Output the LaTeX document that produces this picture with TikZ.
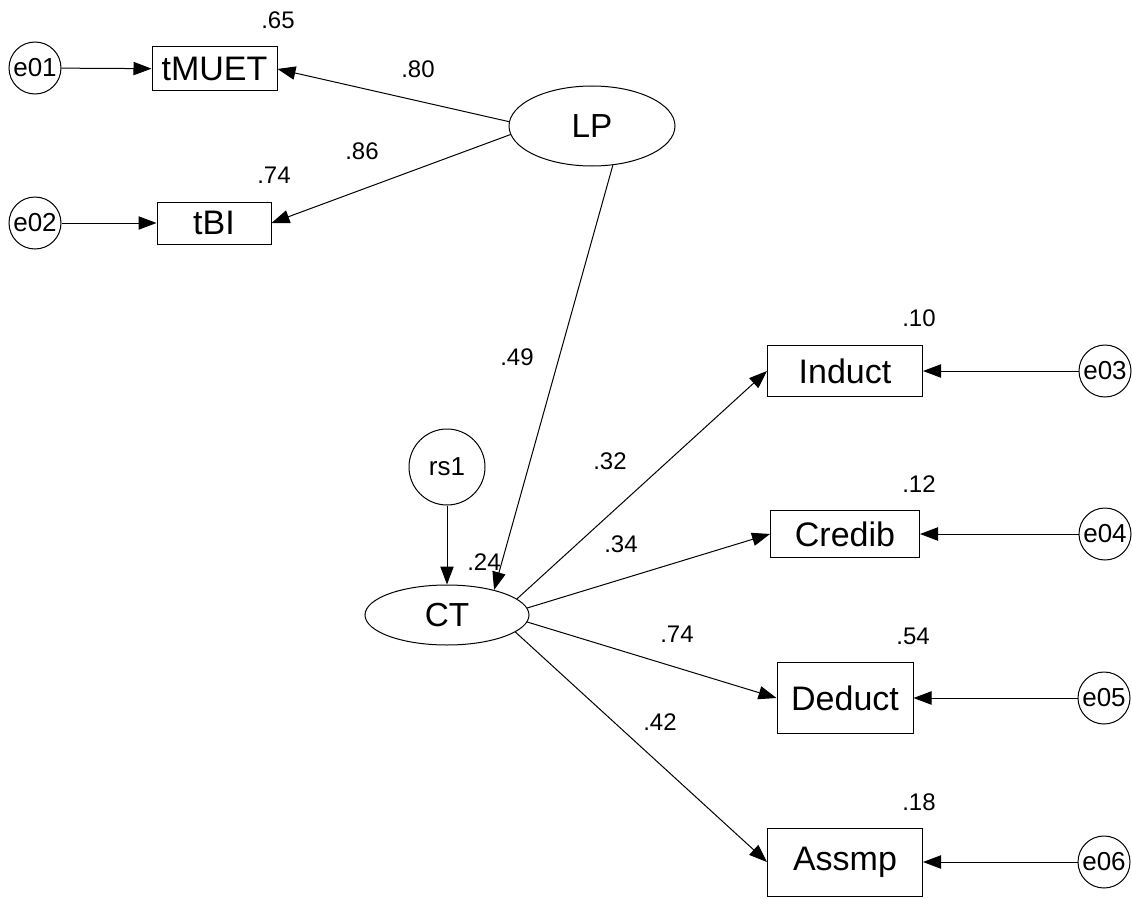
\documentclass[tikz,border=0pt]{standalone}
\usepackage{fontspec}
\setmainfont{Liberation Sans}
\usetikzlibrary{arrows.meta,shapes.geometric}

\tikzset{every picture/.style={line width=0.75pt}}
\tikzset{
  obsbox/.style={draw, rectangle, inner sep=0pt, font=\fontsize{25.5}{30}\selectfont},
  latent/.style={draw, ellipse, inner sep=0pt, font=\fontsize{25}{30}\selectfont},
  errc/.style={draw, circle, inner sep=0pt, minimum size=39pt, font=\fontsize{19.5}{23}\selectfont},
  coef/.style={inner sep=0.75pt, font=\fontsize{18}{21}\selectfont},
  regarrow/.style={-{Triangle[length=13.5pt,width=10pt]}}
}

\begin{document}
\begin{tikzpicture}[x=0.75pt,y=0.75pt,yscale=-1,xscale=1]
\useasboundingbox (0,0) rectangle (1132,899);

% Latent variables
\node [latent, minimum width=124.5pt, minimum height=60pt] (LP) at (592,126) {LP};
\node [latent, minimum width=123pt, minimum height=45pt] (CT) at (447,615) {CT};
\node [errc, minimum size=57pt] (rs1) at (447,467) {rs1};

% Observed variables
\node [obsbox, minimum width=93.75pt, minimum height=33pt] (tMUET) at (214.5,69) {tMUET};
\node [obsbox, minimum width=85.5pt, minimum height=31.5pt] (tBI) at (214,223) {tBI};
\node [obsbox, minimum width=116.25pt, minimum height=38.25pt] (Induct) at (845,371) {Induct};
\node [obsbox, minimum width=111.75pt, minimum height=35.25pt] (Credib) at (845,534) {Credib};
\node [obsbox, minimum width=102pt, minimum height=53.25pt] (Deduct) at (845,698) {Deduct};
\node [obsbox, minimum width=116.25pt, minimum height=51pt] (Assmp) at (845,862) {Assmp};

% Error terms
\node [errc] (e01) at (35,68) {e01};
\node [errc] (e02) at (35,223) {e02};
\node [errc] (e03) at (1105,371) {e03};
\node [errc] (e04) at (1105,534) {e04};
\node [errc] (e05) at (1104,698) {e05};
\node [errc] (e06) at (1104,862) {e06};

%Straight Lines
\draw [regarrow] (e01) -- (tMUET);
\draw [regarrow] (e02) -- (tBI);
\draw [regarrow] (LP.177) -- (tMUET.east);
\draw [regarrow] (LP.186) -- (tBI.east);
\draw [regarrow] (LP.-62) -- (CT.28);
\draw [regarrow] (rs1) -- (CT);
\draw [regarrow] (CT.13) -- (Induct.west);
\draw [regarrow] (CT.5) -- (Credib.west);
\draw [regarrow] (CT.-5) -- (Deduct.west);
\draw [regarrow] (CT.-14) -- (Assmp.west);
\draw [regarrow] (e03) -- (Induct);
\draw [regarrow] (e04) -- (Credib);
\draw [regarrow] (e05) -- (Deduct);
\draw [regarrow] (e06) -- (Assmp);

% Text Node
\node [coef] (r2tMUET) at (278,20) {.65};
\node [coef] (r2tBI) at (274,175) {.74};
\node [coef] (wLPtMUET) at (418,69) {.80};
\node [coef] (wLPtBI) at (362,151) {.86};
\node [coef] (wLPCT) at (517,357) {.49};
\node [coef] (r2CT) at (484,562) {.24};
\node [coef] (wCTInduct) at (610,461) {.32};
\node [coef] (wCTCredib) at (621,544) {.34};
\node [coef] (wCTDeduct) at (677,634) {.74};
\node [coef] (wCTAssmp) at (660,722) {.42};
\node [coef] (r2Induct) at (919,318) {.10};
\node [coef] (r2Credib) at (919,484) {.12};
\node [coef] (r2Deduct) at (913,636) {.54};
\node [coef] (r2Assmp) at (919,802) {.18};

\end{tikzpicture}
\end{document}
